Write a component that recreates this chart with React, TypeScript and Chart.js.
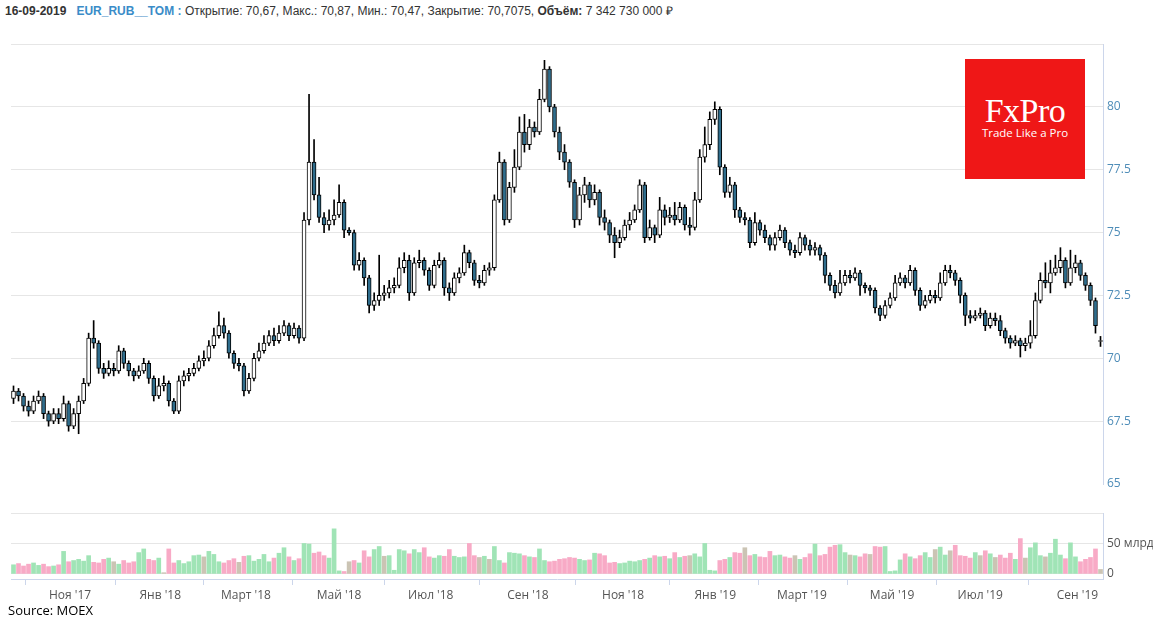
import React, { useEffect, useRef } from 'react';
import { Chart, registerables } from 'chart.js';

Chart.register(...registerables);

// ---- Data (~2.5 trading days per candle) ----
const opens = [
  68.4, 68.7, 68.5, 68.1, 67.9, 68.3, 68.5, 67.8, 67.5, 67.8,
  67.6, 68.2, 67.3, 67.8, 68.3, 69.0, 70.8, 70.6, 69.6, 69.4,
  69.6, 69.5, 70.3, 69.8, 69.5, 69.3, 69.5, 69.8, 69.2, 68.5,
  68.9, 69.0, 68.3, 67.9, 69.1, 69.3, 69.4, 69.6, 69.9, 70.0,
  70.5, 70.9, 71.3, 71.0, 70.2, 69.8, 69.7, 68.7, 69.2, 70.0,
  70.3, 70.6, 70.9, 70.7, 71.0, 71.3, 70.9, 71.2, 70.8, 75.5,
  77.8, 76.5, 75.6, 75.3, 75.5, 75.7, 76.2, 75.1, 75.0, 73.7,
  73.9, 73.2, 72.1, 72.3, 72.5, 72.6, 72.8, 72.9, 73.6, 73.9,
  72.6, 73.8, 73.9, 73.5, 72.9, 73.7, 73.9, 72.8, 72.6, 73.2,
  73.4, 74.2, 73.8, 73.1, 73.0, 73.5, 73.6, 76.3, 77.8, 75.5,
  76.8, 77.6, 79.0, 78.5, 79.2, 79.0, 80.3, 81.5, 80.0, 79.0,
  78.2, 77.8, 77.0, 75.5, 76.5, 76.9, 76.3, 76.6, 75.6, 75.4,
  74.9, 74.6, 74.8, 75.3, 75.5, 75.9, 76.9, 74.8, 75.2, 74.9,
  75.9, 75.6, 75.7, 75.5, 76.0, 75.3, 75.2, 76.3, 78.0, 78.5,
  79.5, 79.9, 77.6, 76.6, 76.9, 75.9, 75.6, 75.5, 74.6, 75.4,
  75.1, 74.8, 74.5, 74.8, 75.1, 74.6, 74.3, 74.2, 74.8, 74.5,
  74.3, 74.4, 74.1, 73.3, 72.9, 72.6, 73.0, 73.3, 73.2, 73.4,
  72.9, 72.8, 72.7, 72.0, 71.7, 72.1, 72.4, 73.0, 73.2, 73.0,
  73.5, 72.7, 72.1, 72.3, 72.5, 72.4, 73.0, 73.5, 73.4, 73.1,
  72.5, 71.7, 71.6, 71.7, 71.8, 71.3, 71.6, 71.5, 71.1, 70.8,
  70.6, 70.7, 70.5, 70.6, 70.9, 72.3, 73.1, 73.0, 73.4, 73.6,
  73.9, 73.0, 73.6, 73.8, 73.3, 72.9, 72.3, 70.67,
];

const highs = [
  68.9, 68.8, 68.6, 68.3, 68.5, 68.7, 68.6, 67.9, 68.0, 68.0,
  68.5, 68.3, 68.0, 68.5, 69.2, 71.0, 71.5, 70.7, 69.8, 69.9,
  69.8, 70.5, 70.4, 69.9, 69.6, 69.7, 70.0, 69.9, 69.3, 69.2,
  69.3, 69.1, 68.4, 69.3, 69.5, 69.6, 69.8, 70.1, 70.3, 70.7,
  71.2, 71.85, 71.6, 71.1, 70.3, 70.0, 69.8, 69.4, 70.2, 70.6,
  70.9, 71.1, 71.2, 71.3, 71.5, 71.4, 71.4, 71.3, 75.8, 80.5,
  78.7, 77.2, 75.8, 75.9, 76.3, 76.9, 76.3, 75.2, 75.1, 74.2,
  74.0, 73.3, 72.6, 74.1, 72.9, 73.1, 73.2, 74.0, 74.2, 74.1,
  74.0, 74.3, 74.0, 73.6, 73.9, 74.2, 74.0, 73.0, 73.4, 73.6,
  74.5, 74.3, 73.9, 73.3, 73.7, 73.8, 76.5, 78.2, 77.9, 77.0,
  78.3, 79.6, 79.7, 79.5, 79.4, 80.7, 81.85, 81.6, 80.1, 79.2,
  78.5, 77.9, 77.1, 76.8, 77.2, 77.0, 76.9, 76.7, 75.9, 75.5,
  75.2, 75.1, 75.5, 75.8, 76.1, 77.1, 77.0, 75.5, 75.3, 76.4,
  76.1, 76.0, 76.2, 76.2, 76.1, 75.6, 76.6, 78.3, 79.2, 79.8,
  80.2, 80.0, 77.7, 77.2, 77.0, 76.0, 75.8, 75.6, 75.8, 75.5,
  75.3, 74.9, 75.0, 75.3, 75.2, 74.7, 74.5, 75.0, 74.9, 74.7,
  74.6, 74.5, 74.2, 73.4, 73.1, 73.5, 73.5, 73.5, 73.6, 73.5,
  73.0, 72.9, 72.8, 72.1, 72.3, 72.6, 73.3, 73.4, 73.3, 73.7,
  73.6, 72.8, 72.5, 72.7, 72.7, 73.4, 73.7, 73.7, 73.5, 73.2,
  72.6, 71.9, 71.9, 72.0, 71.9, 71.8, 71.8, 71.7, 71.2, 70.9,
  70.9, 70.8, 70.8, 71.5, 72.6, 73.4, 73.8, 73.9, 74.1, 74.4,
  74.0, 74.3, 74.1, 73.9, 73.4, 73.0, 72.4, 70.87,
];

const lows = [
  68.2, 68.3, 67.9, 67.7, 67.8, 68.2, 67.6, 67.3, 67.4, 67.4,
  67.5, 67.1, 67.2, 67.0, 68.2, 68.9, 70.4, 69.4, 69.2, 69.3,
  69.3, 69.4, 69.6, 69.3, 69.1, 69.2, 69.4, 69.0, 68.3, 68.4,
  68.7, 68.1, 67.8, 67.8, 68.9, 69.1, 69.3, 69.5, 69.7, 69.9,
  70.4, 70.8, 70.8, 70.0, 69.6, 69.5, 68.5, 68.6, 69.1, 69.9,
  70.2, 70.5, 70.5, 70.6, 70.9, 70.7, 70.8, 70.6, 70.7, 75.3,
  76.3, 75.4, 75.0, 75.1, 75.3, 75.6, 74.8, 74.9, 73.5, 73.5,
  72.9, 71.8, 71.9, 72.1, 72.3, 72.4, 72.6, 72.8, 73.4, 72.3,
  72.5, 73.6, 73.3, 72.7, 72.8, 73.6, 72.5, 72.3, 72.5, 73.0,
  73.3, 73.6, 72.9, 72.8, 72.9, 73.3, 73.5, 76.2, 75.3, 75.4,
  76.6, 77.5, 78.2, 78.3, 78.8, 78.9, 80.2, 79.8, 78.8, 77.9,
  77.5, 76.8, 75.2, 75.3, 76.2, 76.0, 76.1, 75.3, 75.1, 74.6,
  74.0, 74.4, 74.7, 75.1, 75.4, 75.8, 74.6, 74.7, 74.6, 74.8,
  75.3, 75.4, 75.3, 75.4, 75.1, 74.9, 75.1, 76.2, 77.8, 78.3,
  79.3, 77.3, 76.4, 76.4, 75.6, 75.4, 75.3, 74.4, 74.5, 74.9,
  74.6, 74.3, 74.3, 74.7, 74.4, 74.1, 74.0, 74.1, 74.3, 74.1,
  74.1, 73.9, 73.0, 72.7, 72.4, 72.5, 72.9, 73.0, 73.1, 72.5,
  72.6, 72.5, 71.8, 71.5, 71.6, 72.0, 72.3, 72.9, 72.8, 72.9,
  72.5, 71.9, 72.0, 72.2, 72.2, 72.3, 72.9, 73.2, 72.9, 72.2,
  71.3, 71.4, 71.5, 71.6, 71.1, 71.2, 71.3, 70.9, 70.6, 70.4,
  70.5, 70.05, 70.3, 70.4, 70.8, 72.2, 72.8, 72.6, 73.3, 73.4,
  72.8, 72.9, 73.4, 73.1, 72.7, 72.1, 71.0, 70.47,
];

const closes = [
  68.7, 68.5, 68.1, 67.9, 68.3, 68.5, 67.8, 67.5, 67.8, 67.6,
  68.2, 67.3, 67.8, 68.3, 69.0, 70.8, 70.6, 69.6, 69.4, 69.6,
  69.5, 70.3, 69.8, 69.5, 69.3, 69.5, 69.8, 69.2, 68.5, 68.9,
  69.0, 68.3, 67.9, 69.1, 69.3, 69.4, 69.6, 69.9, 70.0, 70.5,
  70.9, 71.3, 71.0, 70.2, 69.8, 69.7, 68.7, 69.2, 70.0, 70.3,
  70.6, 70.9, 70.7, 71.0, 71.3, 70.9, 71.2, 70.8, 75.5, 77.8,
  76.5, 75.6, 75.3, 75.5, 75.7, 76.2, 75.1, 75.0, 73.7, 73.9,
  73.2, 72.1, 72.3, 72.5, 72.6, 72.8, 72.9, 73.6, 73.9, 72.6,
  73.8, 73.9, 73.5, 72.9, 73.7, 73.9, 72.8, 72.6, 73.2, 73.4,
  74.2, 73.8, 73.1, 73.0, 73.5, 73.6, 76.3, 77.8, 75.5, 76.8,
  77.6, 79.0, 78.5, 79.2, 79.0, 80.3, 81.5, 80.0, 79.0, 78.2,
  77.8, 77.0, 75.5, 76.5, 76.9, 76.3, 76.6, 75.6, 75.4, 74.9,
  74.6, 74.8, 75.3, 75.5, 75.9, 76.9, 74.8, 75.2, 74.9, 75.9,
  75.6, 75.7, 75.5, 76.0, 75.3, 75.2, 76.3, 78.0, 78.5, 79.5,
  79.9, 77.6, 76.6, 76.9, 75.9, 75.6, 75.5, 74.6, 75.4, 75.1,
  74.8, 74.5, 74.8, 75.1, 74.6, 74.3, 74.2, 74.8, 74.5, 74.3,
  74.4, 74.1, 73.3, 72.9, 72.6, 73.0, 73.3, 73.2, 73.4, 72.9,
  72.8, 72.7, 72.0, 71.7, 72.1, 72.4, 73.0, 73.2, 73.0, 73.5,
  72.7, 72.1, 72.3, 72.5, 72.4, 73.0, 73.5, 73.4, 73.1, 72.5,
  71.7, 71.6, 71.7, 71.8, 71.3, 71.6, 71.5, 71.1, 70.8, 70.6,
  70.7, 70.5, 70.6, 70.9, 72.3, 73.1, 73.0, 73.4, 73.6, 73.9,
  73.0, 73.6, 73.8, 73.3, 72.9, 72.3, 71.3, 70.7075,
];

// volume, billions of roubles
const volumes = [
  15, 17, 13, 16, 18, 14, 16, 12, 13, 15,
  37, 20, 22, 24, 21, 30, 19, 18, 24, 26,
  20, 16, 22, 18, 20, 35, 41, 24, 22, 26,
  2, 41, 18, 22, 17, 20, 30, 31, 28, 37,
  32, 20, 18, 22, 25, 19, 29, 30, 21, 24,
  32, 20, 26, 34, 43, 28, 22, 25, 50, 49,
  34, 36, 30, 26, 74, 5, 4, 20, 22, 18,
  38, 28, 40, 45, 29, 30, 6, 40, 38, 33,
  40, 35, 43, 28, 26, 30, 29, 40, 29, 27,
  28, 50, 30, 27, 29, 24, 45, 22, 18, 35,
  34, 33, 30, 28, 27, 41, 22, 20, 21, 24,
  25, 27, 26, 24, 22, 23, 34, 33, 30, 18,
  19, 17, 18, 21, 20, 22, 24, 26, 30, 28,
  29, 25, 35, 27, 29, 30, 33, 28, 50, 6,
  5, 22, 24, 27, 35, 34, 43, 30, 32, 28,
  27, 37, 30, 31, 28, 26, 30, 24, 27, 33,
  49, 30, 32, 44, 47, 48, 35, 31, 30, 28,
  33, 32, 45, 44, 45, 4, 5, 23, 33, 28,
  25, 30, 35, 27, 40, 44, 31, 38, 47, 30,
  29, 26, 35, 30, 38, 33, 27, 31, 26, 34,
  24, 58, 26, 43, 51, 30, 28, 34, 57, 31,
  25, 51, 28, 20, 24, 27, 41, 7.34273,
];

const monthTickPositions = [11.3, 29.3, 46.4, 65.0, 83.3, 102.7, 121.7, 140.1, 157.4, 175.4, 193.0, 212.4];
const monthTickLabels = ["Ноя '17", "Янв '18", "Март '18", "Май '18", "Июл '18", "Сен '18", "Ноя '18", "Янв '19", "Март '19", "Май '19", "Июл '19", "Сен '19"];
const priceTicks = [65, 67.5, 70, 72.5, 75, 77.5, 80, 82.5];
const volumeTicks = [0, 50, 100];
const lastDate = '16-09-2019';
const symbol = 'EUR_RUB__TOM';

const N = closes.length;
const FONT = '"Open Sans", "DejaVu Sans", sans-serif';
const GRID = '#e6e6e6';
const AXIS = '#ccd6eb';

function PriceChart() {
  const ref = useRef<HTMLCanvasElement>(null);
  useEffect(() => {
    const idx = closes.map((_, i) => i);
    const chart = new Chart(ref.current as HTMLCanvasElement, {
      type: 'bar',
      data: {
        datasets: [
          {
            label: 'body',
            data: idx.map((i) => ({ x: i, y: [opens[i], closes[i]] })) as any,
            backgroundColor: idx.map((i) => (closes[i] >= opens[i] ? '#ffffff' : '#2f6d8c')),
            borderColor: '#000000',
            borderWidth: 1,
            borderSkipped: false,
            barThickness: 4,
            grouped: false,
          } as any,
          {
            label: 'wick',
            data: idx.map((i) => ({ x: i, y: [lows[i], highs[i]] })) as any,
            backgroundColor: '#000000',
            borderWidth: 0,
            barThickness: 1,
            grouped: false,
          } as any,
        ],
      },
      options: {
        animation: false,
        responsive: false,
        maintainAspectRatio: false,
        layout: { padding: { left: 11, right: 0, top: 14, bottom: 16 } },
        plugins: { legend: { display: false }, tooltip: { enabled: false } },
        scales: {
          x: { type: 'linear', min: -0.5, max: N - 0.5, offset: false, display: false },
          y: {
            position: 'right',
            min: 65,
            max: 82.5,
            afterBuildTicks: (s: any) => {
              s.ticks = priceTicks.map((v) => ({ value: v }));
            },
            afterFit: (s: any) => {
              s.width = 50;
            },
            ticks: {
              color: '#4f8db8',
              font: { family: FONT, size: 12 },
              padding: 4,
              callback: (v: any) => (v > 81 ? '' : String(v)),
            },
            grid: {
              drawTicks: false,
              color: (ctx: any) => (ctx.tick && ctx.tick.value === 65 ? 'rgba(0,0,0,0)' : GRID),
            },
            border: { display: true, color: AXIS },
          },
        },
      } as any,
    });
    return () => chart.destroy();
  }, []);
  return (
    <canvas
      ref={ref}
      width={1153}
      height={470}
      style={{ position: 'absolute', left: 0, top: 30, width: 1153, height: 470 }}
    />
  );
}

function VolumeChart() {
  const ref = useRef<HTMLCanvasElement>(null);
  useEffect(() => {
    const idx = volumes.map((_, i) => i);
    const tone = (i: number) =>
      closes[i] - opens[i] > 0.1 ? '#a0e4b6' : opens[i] - closes[i] > 0.1 ? '#f8aac6' : '#cbc4b4';
    const chart = new Chart(ref.current as HTMLCanvasElement, {
      type: 'bar',
      data: {
        datasets: [
          {
            label: 'volume',
            data: idx.map((i) => ({ x: i, y: volumes[i] })) as any,
            backgroundColor: idx.map(tone),
            borderWidth: 0,
            barThickness: 4,
            grouped: false,
          } as any,
        ],
      },
      options: {
        animation: false,
        responsive: false,
        maintainAspectRatio: false,
        layout: { padding: { left: 11, right: 0, top: 13, bottom: 11 } },
        plugins: { legend: { display: false }, tooltip: { enabled: false } },
        scales: {
          x: {
            type: 'linear',
            min: -0.5,
            max: N - 0.5,
            offset: false,
            afterBuildTicks: (s: any) => {
              s.ticks = monthTickPositions.map((v) => ({ value: v }));
            },
            afterFit: (s: any) => {
              s.height = 30;
            },
            ticks: {
              autoSkip: false,
              maxRotation: 0,
              color: '#555555',
              font: { family: FONT, size: 12 },
              padding: 3,
              callback: (_v: any, i: number) => monthTickLabels[i],
            },
            grid: { drawOnChartArea: false, drawTicks: true, tickLength: 6, color: AXIS },
            border: { display: true, color: AXIS },
          },
          y: {
            position: 'right',
            min: -8.33,
            max: 100,
            afterBuildTicks: (s: any) => {
              s.ticks = volumeTicks.map((v) => ({ value: v }));
            },
            afterFit: (s: any) => {
              s.width = 50;
            },
            ticks: {
              color: '#555555',
              font: { family: FONT, size: 12 },
              padding: 4,
              callback: (v: any) => (v === 0 ? '0' : v === 50 ? '50 млрд' : ''),
            },
            grid: { drawTicks: false, color: GRID },
            border: { display: true, color: AXIS },
          },
        },
      } as any,
    });
    return () => chart.destroy();
  }, []);
  return (
    <canvas
      ref={ref}
      width={1153}
      height={120}
      style={{ position: 'absolute', left: 0, top: 500, width: 1153, height: 120 }}
    />
  );
}

const fmt = (v: number) => String(v).replace('.', ',');
const fmtVol = (bn: number) => String(Math.round(bn * 1e9)).replace(/\B(?=(\d{3})+(?!\d))/g, ' ');

export default function App() {
  const last = N - 1;
  return (
    <div
      style={{
        position: 'absolute',
        left: 0,
        top: 0,
        width: 1153,
        height: 620,
        background: '#ffffff',
        overflow: 'hidden',
      }}
    >
      <div
        style={{
          position: 'absolute',
          left: 5,
          top: 3,
          font: '12px "Liberation Sans", Arial, sans-serif',
          lineHeight: '16px',
          color: '#333333',
          whiteSpace: 'nowrap',
        }}
      >
        <b style={{ marginRight: 10 }}>{lastDate}</b>
        <b style={{ color: '#3a8cc8' }}>{symbol} :</b>
        {` Открытие: ${fmt(opens[last])}, Макс.: ${fmt(highs[last])}, Мин.: ${fmt(lows[last])}, Закрытие: ${fmt(closes[last])}, `}
        <b>Объём:</b>
        {` ${fmtVol(volumes[last])} ₽`}
      </div>

      <PriceChart />
      <VolumeChart />

      <div
        style={{
          position: 'absolute',
          left: 965,
          top: 59,
          width: 120,
          height: 120,
          background: '#ef1717',
        }}
      >
        <div
          style={{
            position: 'absolute',
            left: 0,
            top: 35,
            width: 120,
            textAlign: 'center',
            font: '34px "Liberation Serif", "DejaVu Serif", serif',
            lineHeight: '34px',
            color: '#ffffff',
            letterSpacing: -0.5,
          }}
        >
          FxPro
        </div>
        <div
          style={{
            position: 'absolute',
            left: 0,
            top: 67,
            width: 120,
            textAlign: 'center',
            font: '11.5px "Open Sans", Arial, sans-serif',
            lineHeight: '14px',
            color: '#ffffff',
          }}
        >
          Trade Like a Pro
        </div>
      </div>

      <div
        style={{
          position: 'absolute',
          left: 8,
          top: 602,
          font: '13px "Open Sans", Arial, sans-serif',
          lineHeight: '16px',
          color: '#000000',
        }}
      >
        Source: MOEX
      </div>
    </div>
  );
}
